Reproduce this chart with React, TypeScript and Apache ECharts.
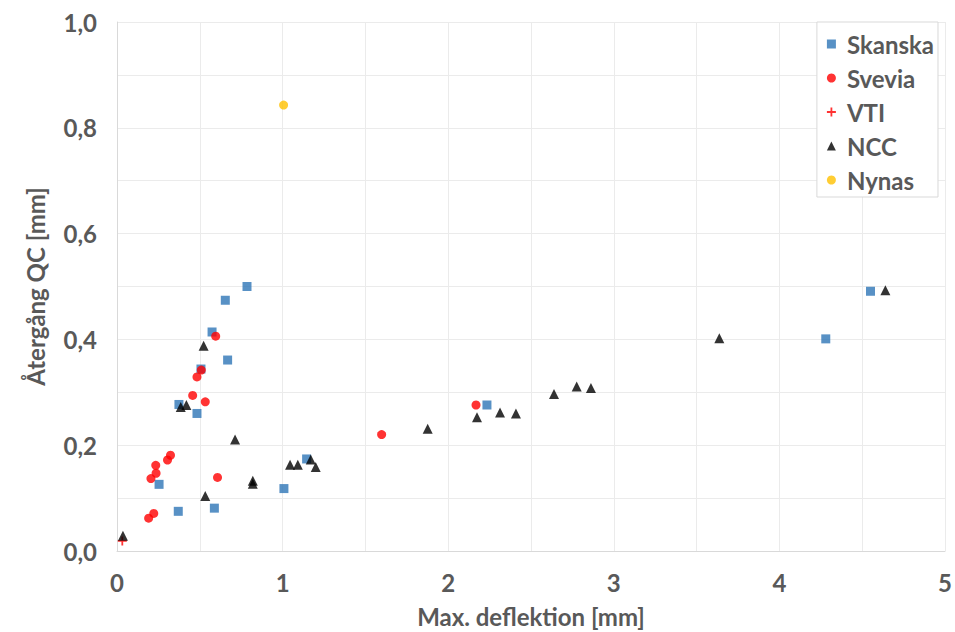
import React, { useEffect, useRef } from "react";
import * as echarts from "echarts";

const xTicks = [0, 1, 2, 3, 4, 5];
const yTicks = [0, 0.2, 0.4, 0.6, 0.8, 1.0];

const skanska: [number, number][] = [
  [0.785, 0.5], [0.654, 0.474], [0.574, 0.414], [0.668, 0.361], [0.507, 0.344],
  [0.374, 0.277], [0.483, 0.26], [0.254, 0.126], [0.37, 0.075], [0.588, 0.081],
  [1.008, 0.118], [1.145, 0.174], [2.234, 0.276], [4.28, 0.401], [4.55, 0.491],
];

const svevia: [number, number][] = [
  [0.596, 0.406], [0.509, 0.342], [0.483, 0.329], [0.457, 0.294], [0.533, 0.282],
  [0.323, 0.181], [0.305, 0.172], [0.234, 0.162], [0.236, 0.147], [0.205, 0.137],
  [0.607, 0.139], [0.222, 0.071], [0.191, 0.062], [1.598, 0.22], [2.168, 0.276],
];

const vti: [number, number][] = [[0.032, 0.019]];

const ncc: [number, number][] = [
  [0.523, 0.388], [0.385, 0.272], [0.419, 0.276], [0.713, 0.211], [1.045, 0.163],
  [1.092, 0.163], [1.17, 0.173], [1.2, 0.159], [0.82, 0.133], [0.82, 0.127],
  [0.533, 0.104], [0.036, 0.029], [1.876, 0.231], [2.174, 0.253], [2.313, 0.262],
  [2.409, 0.26], [2.639, 0.297], [2.776, 0.311], [2.862, 0.308], [3.637, 0.402],
  [4.64, 0.493],
];

const nynas: [number, number][] = [[1.006, 0.843]];

const FONT = "Lato, 'Open Sans', sans-serif";
const TXT = "#595959";
const PLUS = "path://M4,0H6V4H10V6H6V10H4V6H0V4H4Z";

export default function App() {
  const ref = useRef<HTMLDivElement>(null);
  useEffect(() => {
    if (!ref.current) return;
    const chart = echarts.init(ref.current, null, { renderer: "svg" });
    const near = (v: number, arr: number[]) => arr.some((t) => Math.abs(t - v) < 1e-6);
    chart.setOption({
      animation: false,
      backgroundColor: "#ffffff",
      textStyle: { fontFamily: FONT },
      grid: { left: 117, right: 10, top: 22, bottom: 81, containLabel: false, outerBoundsMode: "none" },
      legend: {
        orient: "vertical",
        right: 17,
        top: 22,
        backgroundColor: "#ffffff",
        borderColor: "#d9d9d9",
        borderWidth: 1,
        borderRadius: 0,
        padding: [10, 4, 5, 10],
        itemWidth: 9,
        itemHeight: 9,
        itemGap: 10,
        textStyle: {
          fontFamily: FONT,
          fontSize: 24,
          fontWeight: "bold",
          color: TXT,
          lineHeight: 24,
          padding: [0, 0, 0, 6],
        },
        data: ["Skanska", "Svevia", "VTI", "NCC", "Nynas"],
      },
      xAxis: {
        type: "value",
        min: 0,
        max: 5,
        interval: 0.5,
        name: "Max. deflektion [mm]",
        nameLocation: "middle",
        nameGap: 53,
        nameTextStyle: { fontFamily: FONT, fontSize: 24, fontWeight: "bold", color: TXT },
        axisLine: { show: true, lineStyle: { color: "#d9d9d9", width: 1 } },
        axisTick: { show: false },
        axisLabel: {
          margin: 19,
          fontFamily: FONT,
          fontSize: 24,
          fontWeight: "bold",
          color: TXT,
          formatter: (v: number) => (near(v, xTicks) ? String(Math.round(v)) : ""),
        },
        splitLine: { show: true, lineStyle: { color: "#ebebeb", width: 1 } },
      },
      yAxis: {
        type: "value",
        min: 0,
        max: 1,
        interval: 0.1,
        name: "Återgång QC [mm]",
        nameLocation: "middle",
        nameGap: 70,
        nameTextStyle: { fontFamily: FONT, fontSize: 24, fontWeight: "bold", color: TXT },
        axisLine: { show: true, lineStyle: { color: "#d9d9d9", width: 1 } },
        axisTick: { show: false },
        axisLabel: {
          margin: 20,
          fontFamily: FONT,
          fontSize: 24,
          fontWeight: "bold",
          color: TXT,
          formatter: (v: number) => (near(v, yTicks) ? v.toFixed(1).replace(".", ",") : ""),
        },
        splitLine: { show: true, lineStyle: { color: "#ebebeb", width: 1 } },
      },
      series: [
        { name: "Skanska", type: "scatter", data: skanska, symbol: "rect", symbolSize: 9, itemStyle: { color: "#2E75B6" } },
        { name: "Svevia", type: "scatter", data: svevia, symbol: "circle", symbolSize: 9, itemStyle: { color: "#FF0000" } },
        { name: "VTI", type: "scatter", data: vti, symbol: PLUS, symbolSize: 9, itemStyle: { color: "#FF0000" } },
        { name: "NCC", type: "scatter", data: ncc, symbol: "triangle", symbolSize: 10, itemStyle: { color: "#000000" } },
        { name: "Nynas", type: "scatter", data: nynas, symbol: "circle", symbolSize: 9, itemStyle: { color: "#FFC000" } },
      ],
    });
    return () => chart.dispose();
  }, []);
  return <div ref={ref} style={{ width: 955, height: 632, position: "absolute", left: 0, top: 0 }} />;
}
